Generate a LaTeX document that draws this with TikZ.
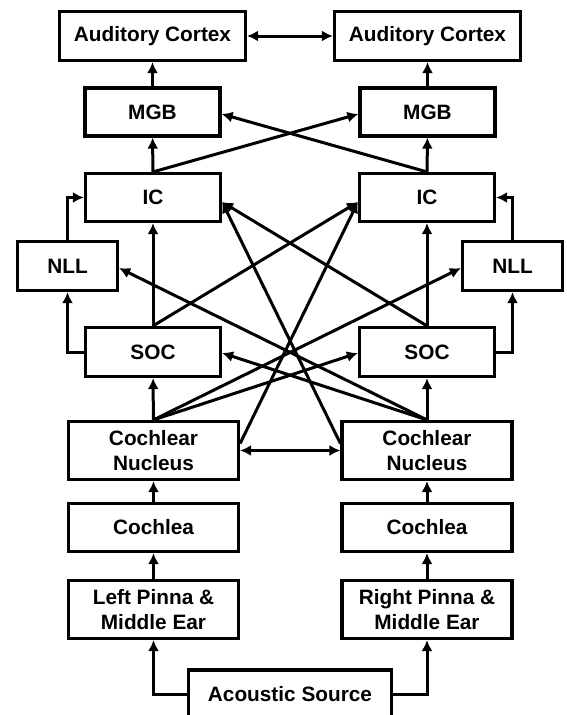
\documentclass[tikz,border=0pt]{standalone}
\usepackage{fontspec}
\setmainfont{Liberation Sans}
\usetikzlibrary{arrows.meta}

\begin{document}
\begin{tikzpicture}[x=1pt,y=-1pt,
        box/.style={draw,line width=3.2pt,minimum width=135pt,minimum height=48pt,inner sep=0pt,align=center,font=\fontsize{20.8}{25}\selectfont\bfseries},
        wide/.style={box,minimum width=170pt},
        tall/.style={wide,minimum height=58pt},
        link/.style={line width=3pt,-{Latex[length=11pt,width=11pt]}},
        both/.style={line width=3pt,{Latex[length=11pt,width=11pt]}-{Latex[length=11pt,width=11pt]}}]
        \useasboundingbox (0,0) rectangle (566,715);
        % left side
        \node[box,minimum width=186pt,minimum height=49pt] (acL) at (152.5,36) {Auditory Cortex};
        \node[box] (mgbL) at (152.5,112) {MGB};
        \node[box] (icL) at (153,197.5) {IC};
        \node[box,minimum width=100pt,minimum height=49pt] (nllL) at (67.5,266) {NLL};
        \node[box,minimum height=49pt] (socL) at (153,352) {SOC};
        \node[tall] (cnL) at (153.5,450.5) {Cochlear\\Nucleus};
        \node[wide] (coL) at (153.5,527.5) {Cochlea};
        \node[tall] (pinL) at (153.5,609.5) {Left Pinna \&\\Middle Ear};
        % right side
        \node[box,minimum width=186pt,minimum height=49pt] (acR) at (427.5,36) {Auditory Cortex};
        \node[box] (mgbR) at (427.5,112) {MGB};
        \node[box] (icR) at (427,197.5) {IC};
        \node[box,minimum width=100pt,minimum height=49pt] (nllR) at (512.5,266) {NLL};
        \node[box,minimum height=49pt] (socR) at (427,352) {SOC};
        \node[tall] (cnR) at (427,450.5) {Cochlear\\Nucleus};
        \node[wide] (coR) at (427,527.5) {Cochlea};
        \node[tall] (pinR) at (427,609.5) {Right Pinna \&\\Middle Ear};
        % source
        \node[box,minimum width=203pt,minimum height=48pt] (src) at (290,694) {Acoustic Source};
        \draw[link] (src.west) -| (pinL.south);
        \draw[link] (src.east) -| (pinR.south);
        % straight up
        \draw[link] (pinL) -- (coL);
        \draw[link] (coL) -- (cnL);
        \draw[link] (cnL) -- (socL);
        \draw[link] (socL) -- (icL);
        \draw[link] (icL) -- (mgbL);
        \draw[link] (mgbL) -- (acL);
        \draw[link] (pinR) -- (coR);
        \draw[link] (coR) -- (cnR);
        \draw[link] (cnR) -- (socR);
        \draw[link] (socR) -- (icR);
        \draw[link] (icR) -- (mgbR);
        \draw[link] (mgbR) -- (acR);
        % via NLL
        \draw[link] (socL.west) -| (nllL.south);
        \draw[link] (nllL.north) |- (icL.west);
        \draw[link] (socR.east) -| (nllR.south);
        \draw[link] (nllR.north) |- (icR.east);
        % across
        \draw[both] (acL) -- (acR);
        \draw[both] (cnL) -- (cnR);
        \draw[link] (icL.north) -- ([yshift=-2pt]mgbR.west);
        \draw[link] (icR.north) -- ([yshift=-2pt]mgbL.east);
        \draw[link] (socL.north) -- ([yshift=-4.5pt]icR.west);
        \draw[link] (socR.north) -- ([yshift=-4.5pt]icL.east);
        \draw[link] ([yshift=7pt]cnL.east) -- ([yshift=-4.5pt]icR.west);
        \draw[link] ([yshift=7pt]cnR.west) -- ([yshift=-4.5pt]icL.east);
        \draw[link] (cnL.north) -- ([yshift=-1pt]socR.west);
        \draw[link] (cnL.north) -- ([yshift=-2pt]nllR.west);
        \draw[link] (cnR.north) -- ([yshift=-1pt]socL.east);
        \draw[link] (cnR.north) -- ([yshift=-2pt]nllL.east);
\end{tikzpicture}
\end{document}
